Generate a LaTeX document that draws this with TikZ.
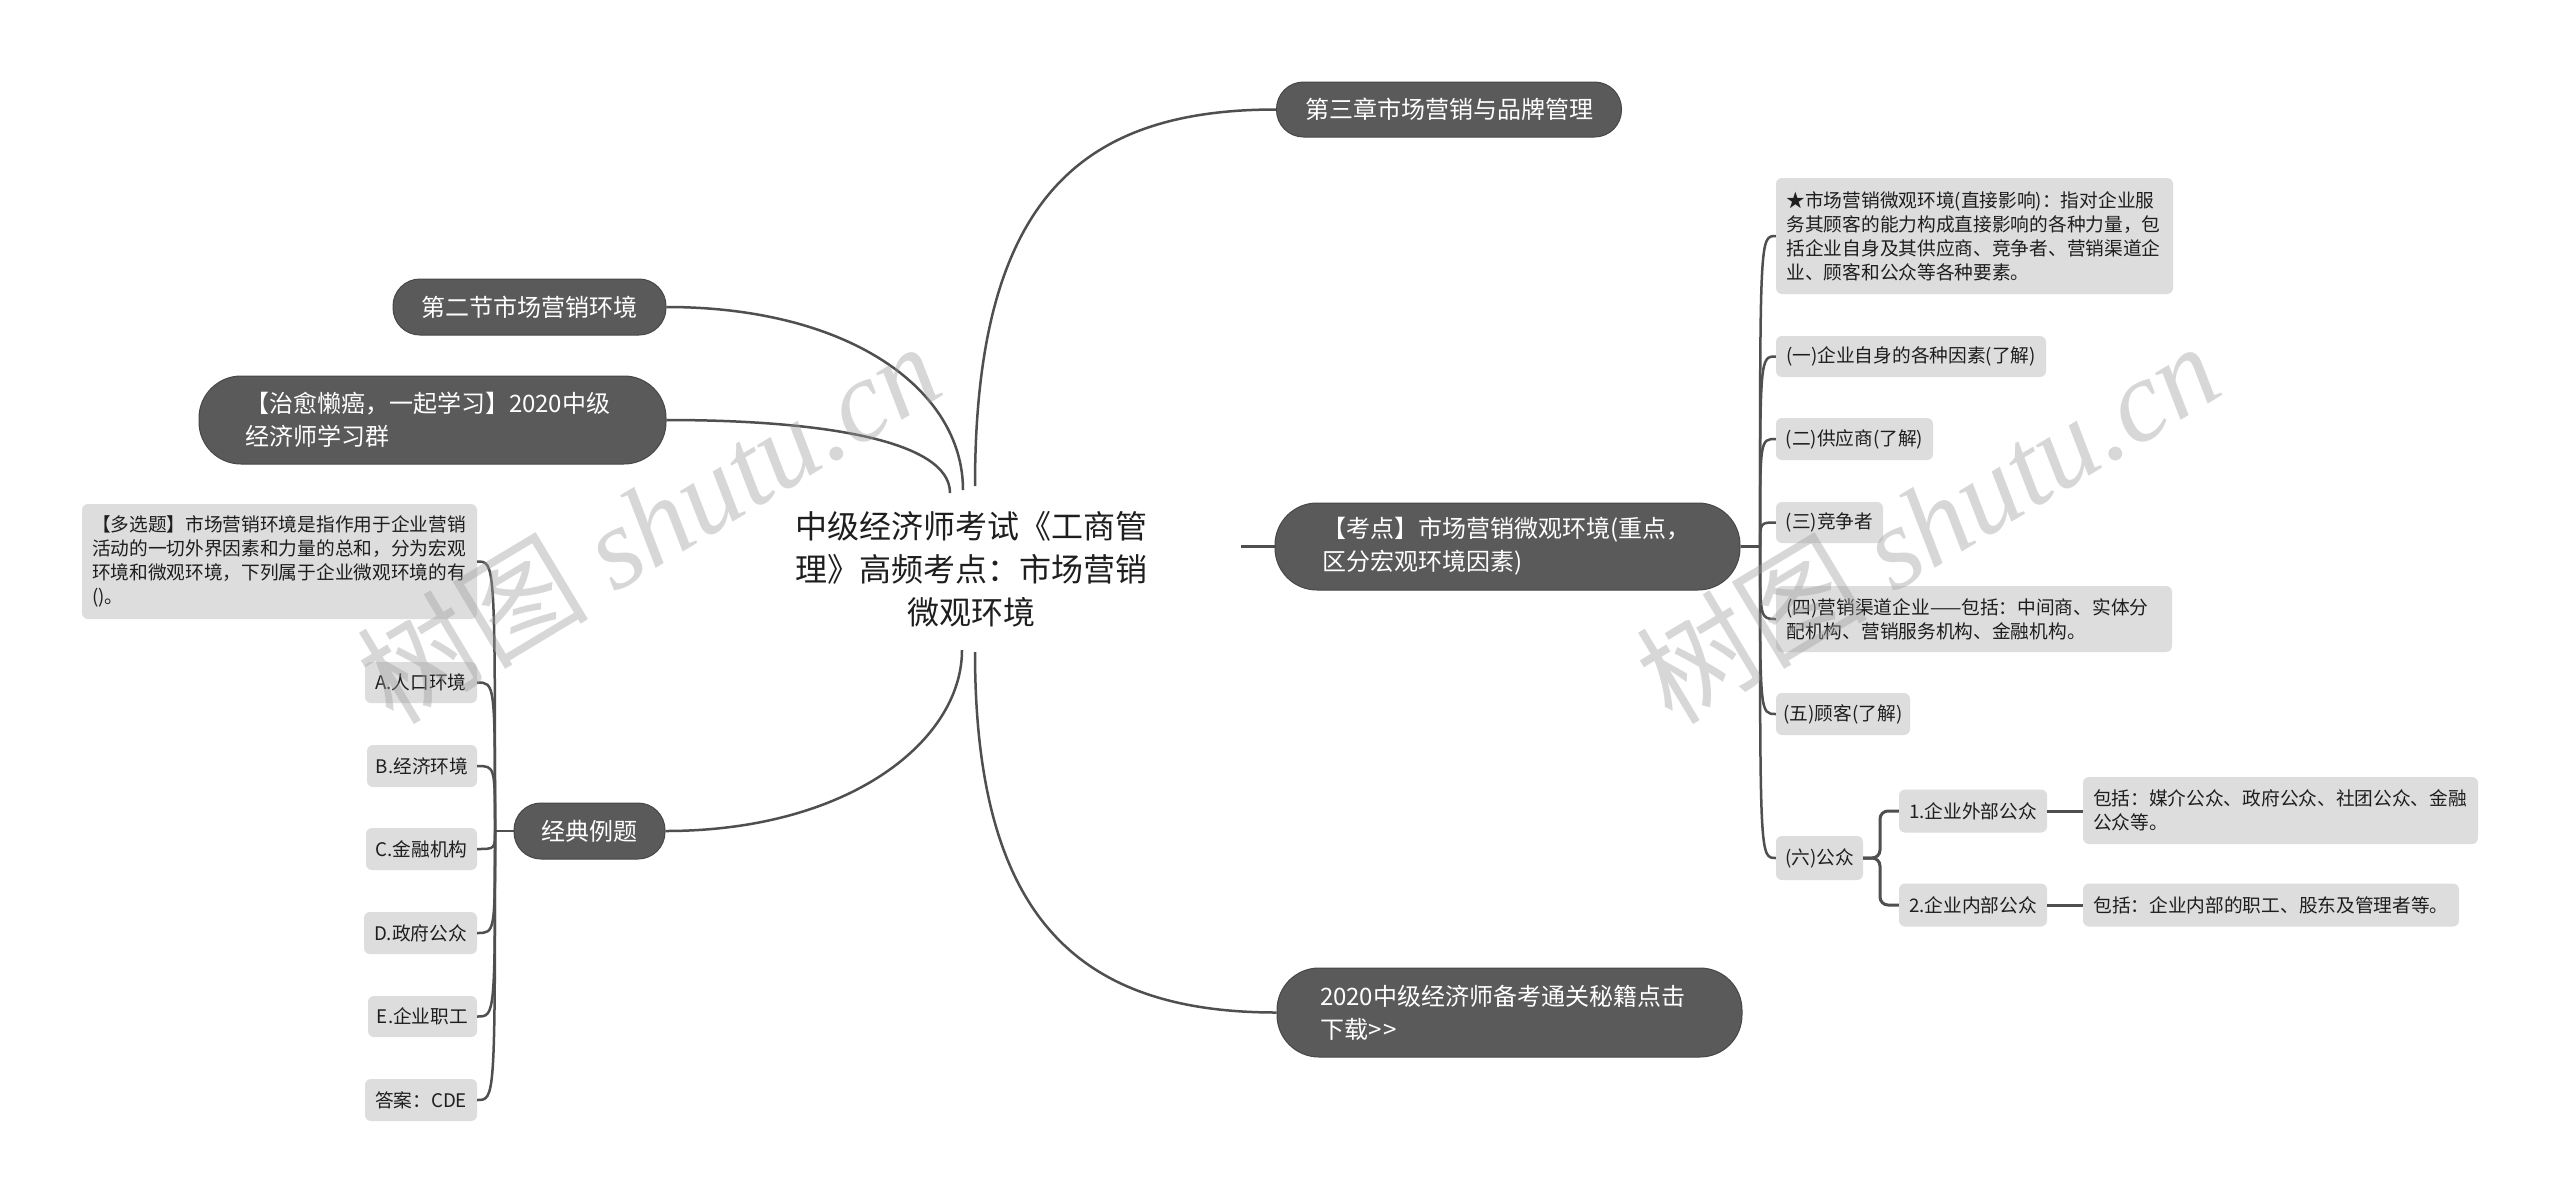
\documentclass[tikz,border=0pt]{standalone}
\usepackage{fontspec}
\setmainfont{Noto Sans CJK SC}
\newfontfamily\wmserif{Liberation Serif}
\definecolor{pillc}{HTML}{5A5A5A}
\definecolor{pilledge}{HTML}{474747}
\definecolor{leafc}{HTML}{DDDDDD}
\definecolor{linec}{HTML}{4F4F4F}
\definecolor{txtc}{HTML}{1E1E1E}
\definecolor{wmc}{HTML}{9C9C9C}
\newcommand\fpill{\fontsize{24}{33}\selectfont}
\newcommand\fleaf{\fontsize{18.7}{24}\selectfont}
\newcommand\froot{\fontsize{32}{43}\selectfont}
\newcommand\fwm{\fontsize{116}{116}\selectfont}
\begin{document}
\begin{tikzpicture}[x=1pt,y=-1pt,
  pill/.style={draw=pilledge, line width=1pt, fill=pillc, text=white, font=\fpill, rounded corners=27pt, inner sep=0pt, align=center},
  pilltwo/.style={pill, rounded corners=42pt, align=left},
  leaf/.style={fill=leafc, text=txtc, font=\fleaf, rounded corners=6pt, inner sep=0pt, align=left},
  conn/.style={draw=linec, line width=2.5pt},
  wmark/.style={text=wmc, opacity=0.4, rotate=31, font=\fwm, inner sep=0pt}
]
\fill[white] (0,0) rectangle (2560,1203);
\useasboundingbox (0,0) rectangle (2560,1203);

% root
\node[font=\froot, text=txtc, align=center] (root) at (971,569) {中级经济师考试《工商管\\理》高频考点：市场营销\\微观环境};

% main branches
\node[pill, minimum width=345pt, minimum height=55pt] (n3) at (1449,109.5) {第三章市场营销与品牌管理};
\node[pilltwo, minimum width=465pt, minimum height=87pt, text width=371pt] (kd) at (1507.5,546.5) {【考点】市场营销微观环境(重点，\\区分宏观环境因素)};
\node[pilltwo, minimum width=465pt, minimum height=89pt, text width=379pt] (dl) at (1509.5,1012.5) {2020中级经济师备考通关秘籍点击\\下载>{}\kern2pt>};
\node[pill, minimum width=273pt, minimum height=56pt] (d2) at (529.5,307) {第二节市场营销环境};
\node[pilltwo, minimum width=467pt, minimum height=88pt, text width=375pt] (zy) at (432.5,420) {【治愈懒癌，一起学习】2020中级\\经济师学习群};
\node[pill, minimum width=151pt, minimum height=56pt] (jd) at (589.5,831) {经典例题};

% left leaves
\node[leaf, minimum width=395pt, minimum height=115pt, text width=375pt] (mq) at (279.5,561.5) {【多选题】市场营销环境是指作用于企业营销\\活动的一切外界因素和力量的总和，分为宏观\\环境和微观环境，下列属于企业微观环境的有\\()。};
\node[leaf, align=center, minimum width=112pt, minimum height=41pt] (la) at (421,682.5) {A.人口环境};
\node[leaf, align=center, minimum width=110pt, minimum height=42pt] (lb) at (422,766) {B.经济环境};
\node[leaf, align=center, minimum width=111pt, minimum height=42pt] (lc) at (421.5,849) {C.金融机构};
\node[leaf, align=center, minimum width=113pt, minimum height=42pt] (ld) at (420.5,933) {D.政府公众};
\node[leaf, align=center, minimum width=109pt, minimum height=41pt] (le) at (422.5,1016.5) {E.企业职工};
\node[leaf, align=center, minimum width=112pt, minimum height=42pt] (lans) at (421,1100) {答案：CDE};

% right leaves
\node[leaf, minimum width=397pt, minimum height=116pt, text width=376pt] (s0) at (1974.5,236) {★市场营销微观环境(直接影响)：指对企业服\\务其顾客的能力构成直接影响的各种力量，包\\括企业自身及其供应商、竞争者、营销渠道企\\业、顾客和公众等各种要素。};
\node[leaf, align=center, minimum width=270pt, minimum height=41pt] (s1) at (1911,356.5) {(一)企业自身的各种因素(了解)};
\node[leaf, align=center, minimum width=157pt, minimum height=42pt] (s2) at (1854.5,439) {(二)供应商(了解)};
\node[leaf, align=center, minimum width=107pt, minimum height=41pt] (s3) at (1829.5,522.5) {(三)竞争者};
\node[leaf, minimum width=396pt, minimum height=66pt, text width=375pt] (s4) at (1974,619) {(四)营销渠道企业——包括：中间商、实体分\\配机构、营销服务机构、金融机构。};
\node[leaf, align=center, minimum width=134pt, minimum height=42pt] (s5) at (1843,714) {(五)顾客(了解)};
\node[leaf, align=center, minimum width=87pt, minimum height=44pt] (s6) at (1819.5,858) {(六)公众};
\node[leaf, align=center, minimum width=148pt, minimum height=43pt] (p1) at (1973,811) {1.企业外部公众};
\node[leaf, align=center, minimum width=148pt, minimum height=43pt] (p2) at (1973,905) {2.企业内部公众};
\node[leaf, minimum width=395pt, minimum height=67pt, text width=375pt] (q1) at (2280.5,810.5) {包括：媒介公众、政府公众、社团公众、金融\\公众等。};
\node[leaf, align=center, minimum width=376pt, minimum height=43pt] (q2) at (2271,905) {包括：企业内部的职工、股东及管理者等。};

% connection points
\coordinate (rt) at (975,486);
\coordinate (rl1) at (963,490);
\coordinate (rl2) at (950,493);
\coordinate (rb1) at (962,650);
\coordinate (rb2) at (975,652);
\coordinate (rr) at (1241,546.5);
\coordinate (jl) at (495,831);
\coordinate (kr) at (1760,546.5);
\coordinate (sx) at (1880,858);

% main connectors
\draw[conn] (rt) .. controls (975,200) and (1080,109.5) .. (n3.west);
\draw[conn] (rb2) .. controls (975,920) and (1080,1012.5) .. (dl.west);
\draw[conn] (d2.east) .. controls (850,307) and (963,390) .. (rl1);
\draw[conn] (zy.east) .. controls (820,420) and (950,440) .. (rl2);
\draw[conn] (jd.east) .. controls (850,831) and (962,740) .. (rb1);
\draw[conn] (rr) -- (kd.west);

% left bracket
\draw[conn] (jd.west) -- (jl);
\foreach \n/\yy in {mq/561.5, la/682.5, lb/766, lc/849, ld/933, le/1016.5, lans/1100}
  \draw[conn] (jl) .. controls (495,\yy) and (495,\yy) .. (\n.east);

% right bracket
\draw[conn] (kd.east) -- (kr);
\foreach \n/\yy in {s0/236, s1/356.5, s2/439, s3/522.5, s4/619, s5/714, s6/858}
  \draw[conn] (kr) .. controls (1760,\yy) and (1760,\yy) .. (\n.west);

% public sub-branch
\draw[conn, line width=3pt, rounded corners=8pt] (s6.east) -- (sx) |- (p1.west);
\draw[conn, line width=3pt, rounded corners=8pt] (s6.east) -- (sx) |- (p2.west);
\draw[conn, line width=3pt] (p1.east) -- (q1.west |- p1.east);
\draw[conn, line width=3pt] (p2.east) -- (q2.west);

% watermarks
\node[wmark] (wm1) at (648,522) {树图 {\wmserif\itshape shutu.cn}};
\node[wmark] (wm2) at (1927,522) {树图 {\wmserif\itshape shutu.cn}};
\end{tikzpicture}
\end{document}
